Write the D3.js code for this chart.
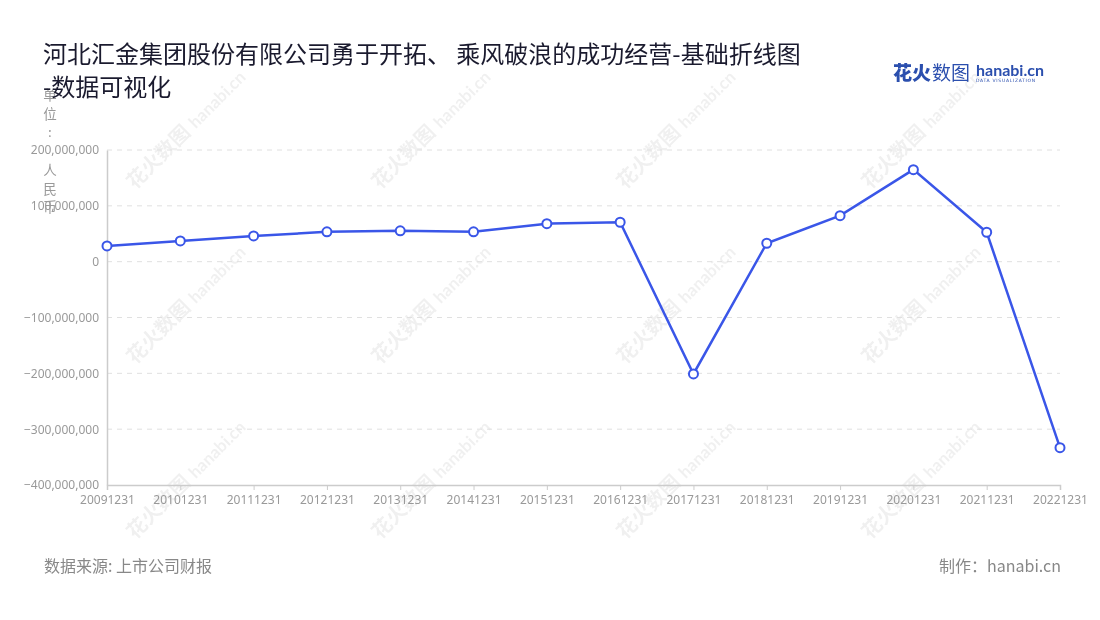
<!DOCTYPE html>
<html><head><meta charset="utf-8">
<script src="https://cdn.jsdelivr.net/npm/d3@7"></script>
<style>
body{margin:0;background:#fff;}
svg{display:block;font-family:"Noto Sans CJK SC","Noto Sans",sans-serif;}
</style></head>
<body><svg id="c" width="1100" height="620"></svg>
<script>
const categories = ["20091231","20101231","20111231","20121231","20131231","20141231","20151231","20161231","20171231","20181231","20191231","20201231","20211231","20221231"];
const values = [28100000,37100000,46000000,53400000,55200000,53400000,68100000,70600000,-201100000,33000000,82400000,164800000,52700000,-333200000];
const yTicks = [-400000000,-300000000,-200000000,-100000000,0,100000000,200000000];
const titleLines = ["河北汇金集团股份有限公司勇于开拓、 乘风破浪的成功经营-基础折线图","-数据可视化"];
const unitLabel = "单位: 人民币";
const sourceText = "数据来源: 上市公司财报";
const makerText = "制作：hanabi.cn";

const svg = d3.select("#c");
const L=107,R=1060,T=150,B=485;

// watermarks
const wm = svg.append("g").attr("opacity",0.06);
for (let i=0;i<4;i++) for (let j=0;j<3;j++){
  const x=135+i*245, y=190+j*175;
  const g=wm.append("g").attr("transform",`translate(${x},${y}) rotate(-45)`);
  g.append("text").attr("font-size",20).attr("font-weight",700).attr("fill","#000").text("花火数图");
  g.append("text").attr("x",86).attr("font-size",17).attr("font-weight",700).attr("fill","#000").attr("font-family","Lato,sans-serif").text("hanabi.cn");
}

const x = d3.scalePoint().domain(categories).range([L,R]);
const y = d3.scaleLinear().domain([-400000000,200000000]).range([B,T]);

// grid
svg.append("g").selectAll("line").data(yTicks.filter(d=>d!==-400000000)).join("line")
  .attr("x1",L).attr("x2",R).attr("y1",d=>y(d)).attr("y2",d=>y(d))
  .attr("stroke","#e0e0e0").attr("stroke-dasharray","5,5");

// y axis
const ya = svg.append("g").attr("transform",`translate(${L},0)`)
  .call(d3.axisLeft(y).tickValues(yTicks).tickSize(0).tickPadding(8).tickFormat(d3.format(",")));
ya.select(".domain").attr("stroke","#ccc").attr("stroke-width",1.5);
ya.selectAll("text").attr("fill","#999").attr("font-size",12).attr("font-family","'Noto Sans',sans-serif");

// x axis
const xa = svg.append("g").attr("transform",`translate(0,${B})`)
  .call(d3.axisBottom(x).tickSize(5).tickPadding(5));
xa.select(".domain").attr("stroke","#ccc").attr("stroke-width",1.5);
xa.selectAll(".tick line").attr("stroke","#ccc");
xa.selectAll("text").attr("fill","#999").attr("font-size",12).attr("font-family","'Noto Sans',sans-serif");

// line
const data = categories.map((c,i)=>({c,v:values[i]}));
svg.append("path").datum(data)
  .attr("d",d3.line().x(d=>x(d.c)).y(d=>y(d.v)))
  .attr("fill","none").attr("stroke","#3a56e8").attr("stroke-width",2.5);
svg.append("g").selectAll("circle").data(data).join("circle")
  .attr("cx",d=>x(d.c)).attr("cy",d=>y(d.v)).attr("r",4.5)
  .attr("fill","#fff").attr("stroke","#3a56e8").attr("stroke-width",2);

// unit label vertical
const ut = svg.append("text").attr("fill","#999").attr("font-size",13.5).attr("text-anchor","middle");
Array.from(unitLabel).forEach((ch,i)=>{
  ut.append("tspan").attr("x",50).attr("y",100+i*18.7).text(ch);
});

// title
const tt = svg.append("text").attr("fill","#1a1a2e").attr("font-size",24);
titleLines.forEach((t,i)=>tt.append("tspan").attr("x",43).attr("y",63+i*33).text(t));

// logo
const lg = svg.append("g");
lg.append("text").attr("x",893).attr("y",80).attr("font-size",19).attr("font-weight",900).attr("fill","#2b4fae").text("花火");
lg.append("text").attr("x",932).attr("y",80).attr("font-size",19).attr("fill","#2b4fae").text("数图");
lg.append("text").attr("x",976).attr("y",76).attr("font-size",16).attr("font-weight",700).attr("fill","#2b4fae").attr("font-family","Lato,sans-serif").text("hanabi.cn");
lg.append("text").attr("x",976).attr("y",82).attr("font-size",4.5).attr("fill","#2b4fae").attr("font-family","'DejaVu Sans',sans-serif").attr("letter-spacing",0.7).text("DATA VISUALIZATION");

// footer
svg.append("text").attr("x",44).attr("y",572).attr("font-size",16).attr("fill","#888").text(sourceText);
svg.append("text").attr("x",1061).attr("y",572).attr("font-size",16).attr("fill","#888").attr("text-anchor","end").text(makerText);
</script></body></html>
